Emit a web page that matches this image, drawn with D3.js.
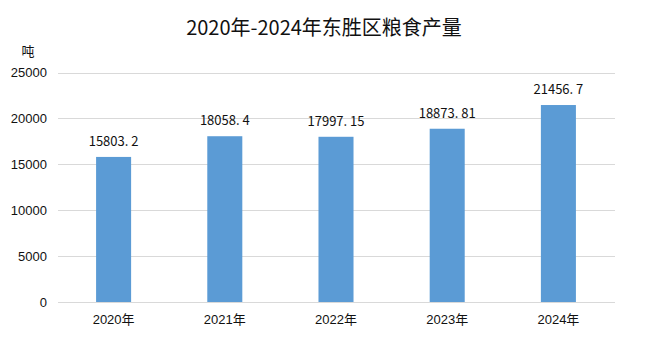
<!DOCTYPE html>
<html>
<head>
<meta charset="utf-8">
<script src="https://cdn.jsdelivr.net/npm/d3@7"></script>
<style>
body { margin: 0; background: #fff; }
svg { display: block; }
</style>
</head>
<body>
<div id="chart"></div>
<script>
var years = ["2020年", "2021年", "2022年", "2023年", "2024年"];
var output = [15803.2, 18058.4, 17997.15, 18873.81, 21456.7];
var labels = ["15803. 2", "18058. 4", "17997. 15", "18873. 81", "21456. 7"];
var yTicks = [0, 5000, 10000, 15000, 20000, 25000];

var width = 648, height = 355;

var svg = d3.select("#chart").append("svg")
    .attr("width", width)
    .attr("height", height);

var xScale = d3.scaleBand().domain(years).range([58, 614]).paddingInner(0.685).paddingOuter(0.3425);
var yScale = d3.scaleLinear().domain([0, 25000]).range([302, 72.5]);

// title
svg.append("text")
    .attr("x", 324)
    .attr("y", 35)
    .attr("text-anchor", "middle")
    .style("font-family", "'Noto Sans CJK SC', sans-serif")
    .style("font-size", "20px")
    .style("fill", "#111")
    .text("2020年-2024年东胜区粮食产量");

// unit
svg.append("text")
    .attr("x", 28)
    .attr("y", 56)
    .attr("text-anchor", "middle")
    .style("font-family", "'Noto Sans CJK SC', sans-serif")
    .style("font-size", "13px")
    .style("fill", "#111")
    .text("吨");

// gridlines
svg.append("g")
    .selectAll("line")
    .data(yTicks)
    .enter()
    .append("line")
    .attr("x1", 58)
    .attr("x2", 615)
    .attr("y1", function(d) { return Math.round(yScale(d)) + 0.5; })
    .attr("y2", function(d) { return Math.round(yScale(d)) + 0.5; })
    .attr("stroke", "#d9d9d9")
    .attr("stroke-width", 1);

// y axis labels
var yAxis = d3.axisLeft(yScale).tickValues(yTicks).tickFormat(d3.format("d")).tickSize(0).tickPadding(0);
var gy = svg.append("g")
    .attr("transform", "translate(47,0)")
    .call(yAxis);
gy.select(".domain").remove();
gy.selectAll("text")
    .style("font-family", "'Liberation Sans', Arial, sans-serif")
    .style("font-size", "13px")
    .style("fill", "#111");

// bars
svg.selectAll("rect.bar")
    .data(output)
    .enter()
    .append("rect")
    .attr("class", "bar")
    .attr("x", function(d, i) { return xScale(years[i]); })
    .attr("width", xScale.bandwidth())
    .attr("y", function(d) { return yScale(d); })
    .attr("height", function(d) { return yScale(0) - yScale(d); })
    .attr("fill", "#5b9bd5");

// value labels
svg.selectAll("text.val")
    .data(output)
    .enter()
    .append("text")
    .attr("class", "val")
    .attr("x", function(d, i) { return xScale(years[i]) + xScale.bandwidth() / 2; })
    .attr("y", function(d) { return yScale(d) - 11; })
    .attr("text-anchor", "middle")
    .style("font-family", "'Noto Sans CJK SC', sans-serif")
    .style("font-size", "13px")
    .style("fill", "#111")
    .text(function(d, i) { return labels[i]; });

// x axis labels
var xAxis = d3.axisBottom(xScale).tickSize(0).tickPadding(0);
var gx = svg.append("g")
    .attr("transform", "translate(0,315)")
    .call(xAxis);
gx.select(".domain").remove();
gx.selectAll("text")
    .style("font-family", "'Liberation Sans', Arial, 'Noto Sans CJK SC', sans-serif")
    .style("font-size", "13px")
    .style("fill", "#111");
</script>
</body>
</html>
